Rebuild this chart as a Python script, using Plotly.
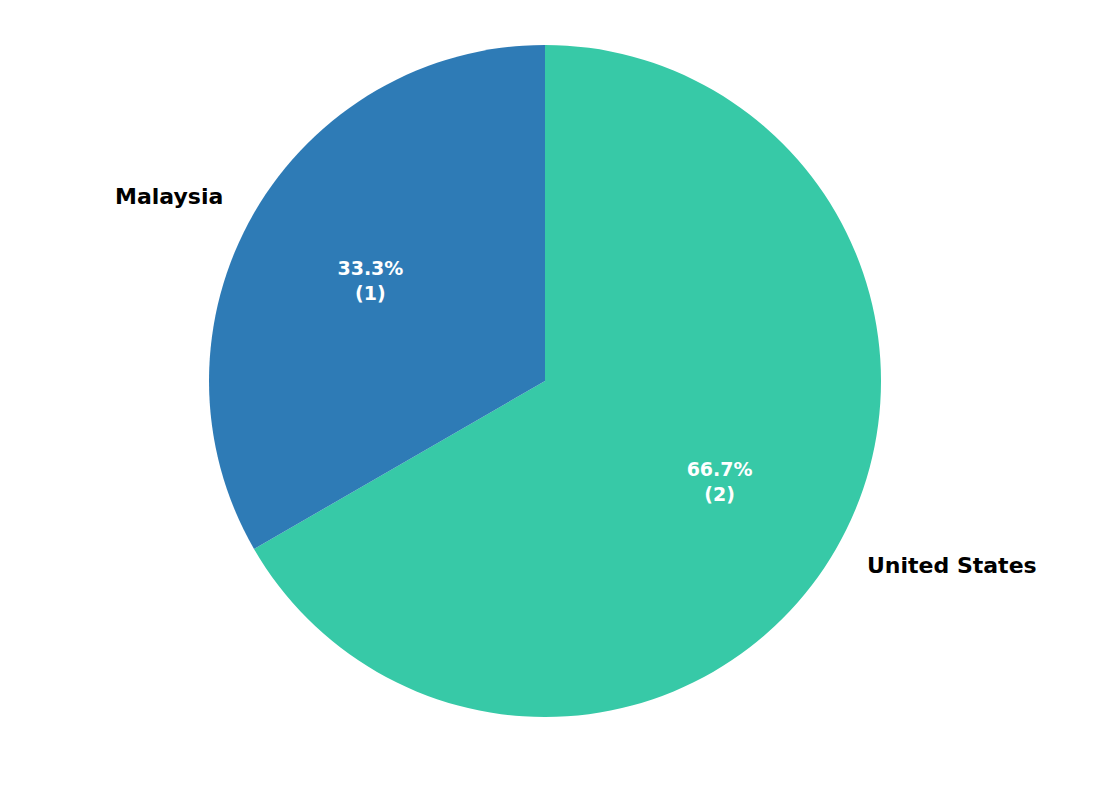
import numpy as np
import plotly.graph_objects as go

# Data
countries = ['Malaysia', 'United States']
counts = [1, 2]
colors = ['#2E7BB6', '#37C9A7']

W, H = 1097, 792
# pie placement in pixels (centre and radius), page body has 8px margin
cx, cy, r = 537, 373, 336
dom = dict(x=[(cx - r) / W, (cx + r) / W],
           y=[(H - cy - r) / H, (H - cy + r) / H])

# matplotlib draws counterclockwise from 12 o'clock; plotly clockwise,
# so feed the slices in reverse order
labels_cw = countries[::-1]
counts_cw = counts[::-1]
colors_cw = colors[::-1]

fig = go.Figure()

fig.add_trace(go.Pie(
    labels=labels_cw,
    values=counts_cw,
    marker=dict(colors=colors_cw, line=dict(width=0)),
    sort=False,
    direction='clockwise',
    textinfo='none',
    hoverinfo='label+value+percent',
    showlegend=False,
    domain=dom,
))

# transparent ring only to place the percentage text at ~0.6 of the radius
fig.add_trace(go.Pie(
    labels=labels_cw,
    values=counts_cw,
    hole=0.2,
    marker=dict(colors=['rgba(0,0,0,0)'] * len(counts), line=dict(width=0)),
    sort=False,
    direction='clockwise',
    texttemplate='%{percent:.1%}<br>(%{value})',
    textposition='inside',
    insidetextorientation='horizontal',
    textfont=dict(family='DejaVu Sans', size=19, color='white', weight='bold'),
    hoverinfo='skip',
    showlegend=False,
    domain=dom,
))

# country labels outside the pie at 1.1 x radius, matplotlib style
total = sum(counts)
start = 90.0
for name, v in zip(countries, counts):
    span = 360.0 * v / total
    mid = np.deg2rad(start + span / 2)
    start += span
    lx = cx + 1.1 * r * np.cos(mid)
    ly = cy - 1.1 * r * np.sin(mid)
    fig.add_annotation(
        x=lx / W, y=1 - ly / H, xref='paper', yref='paper',
        text=name, showarrow=False,
        xanchor='left' if np.cos(mid) >= 0 else 'right',
        yanchor='middle',
        font=dict(family='DejaVu Sans', size=22, color='black', weight='bold'),
    )

fig.update_layout(
    width=W, height=H,
    margin=dict(l=0, r=0, t=0, b=0),
    paper_bgcolor='white',
    plot_bgcolor='white',
)

fig.write_html("out.html")
